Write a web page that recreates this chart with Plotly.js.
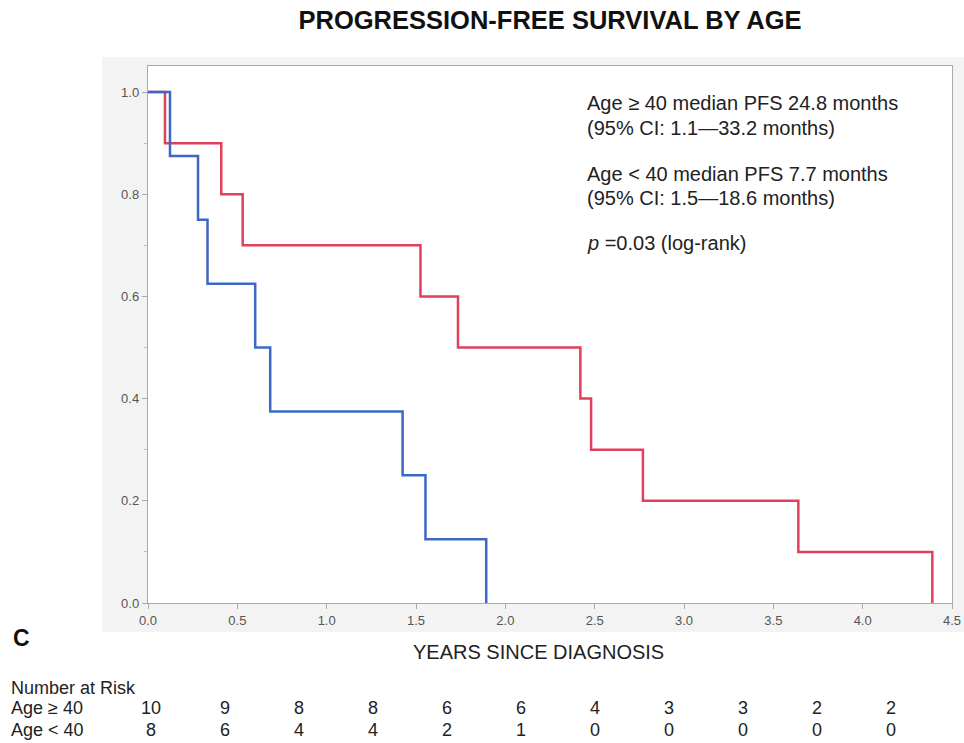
<!DOCTYPE html>
<html>
<head>
<meta charset="utf-8">
<script src="https://cdn.plot.ly/plotly-3.0.1.min.js"></script>
<style>html,body{margin:0;padding:0;background:#fff;}#chart{width:964px;height:743px;}</style>
</head>
<body>
<div id="chart"></div>
<script>
// Kaplan-Meier step data (years since diagnosis, survival probability)
const ageGE40Times = [0, 0.095, 0.41, 0.53, 1.525, 1.735, 2.42, 2.48, 2.77, 3.64, 4.39];
const ageGE40Surv  = [1.0, 0.9, 0.8, 0.7, 0.6, 0.5, 0.4, 0.3, 0.2, 0.1, 0.0];
const ageLT40Times = [0, 0.123, 0.28, 0.333, 0.60, 0.684, 1.425, 1.553, 1.893];
const ageLT40Surv  = [1.0, 0.875, 0.75, 0.625, 0.5, 0.375, 0.25, 0.125, 0.0];

// Number at risk table
const riskGE40 = [10, 9, 8, 8, 6, 6, 4, 3, 3, 2, 2];
const riskLT40 = [8, 6, 4, 4, 2, 1, 0, 0, 0, 0, 0];
const riskRowLabels = ["Age \u2265 40", "Age < 40"];

const textLines = [
  "Age \u2265 40 median PFS 24.8 months",
  "(95% CI: 1.1\u201433.2 months)",
  "Age < 40 median PFS 7.7 months",
  "(95% CI: 1.5\u201418.6 months)",
  "<i>p</i> =0.03 (log-rank)"
];

const W = 964, H = 743;
const mL = 148, mR = 12, mT = 66, mB = 140;
const pw = W - mL - mR, ph = H - mT - mB;
const px = v => (v - mL) / pw;           // pixel x -> paper x
const py = v => (H - mB - v) / ph;       // pixel y -> paper y
const FONT = 'Liberation Sans, Arial, sans-serif';

const traces = [
  {x: ageGE40Times, y: ageGE40Surv, mode: 'lines', line: {shape: 'hv', color: '#e0405a', width: 2.5}, name: 'Age \u2265 40', hoverinfo: 'skip'},
  {x: ageLT40Times, y: ageLT40Surv, mode: 'lines', line: {shape: 'hv', color: '#3d68c6', width: 2.5}, name: 'Age < 40', hoverinfo: 'skip'}
];

const annotations = [];
const textY = [103, 128, 174, 198, 243];
textLines.forEach((t, i) => annotations.push({
  xref: 'paper', yref: 'paper', x: px(585), y: py(textY[i]), xanchor: 'left', yanchor: 'middle',
  text: t, showarrow: false, font: {family: FONT, size: 20, color: '#222'}
}));
annotations.push({xref: 'paper', yref: 'paper', x: px(538), y: py(652), xanchor: 'center', yanchor: 'middle',
  text: 'YEARS SINCE DIAGNOSIS', showarrow: false, font: {family: FONT, size: 20, color: '#222'}});
annotations.push({xref: 'paper', yref: 'paper', x: px(11), y: py(638), xanchor: 'left', yanchor: 'middle',
  text: '<b>C</b>', showarrow: false, font: {family: FONT, size: 23, color: '#111'}});
annotations.push({xref: 'paper', yref: 'paper', x: px(9), y: py(688), xanchor: 'left', yanchor: 'middle',
  text: 'Number at Risk', showarrow: false, font: {family: FONT, size: 18, color: '#222'}});
const rowY = [708, 730];
[riskGE40, riskLT40].forEach((row, r) => {
  annotations.push({xref: 'paper', yref: 'paper', x: px(9), y: py(rowY[r]), xanchor: 'left', yanchor: 'middle',
    text: riskRowLabels[r], showarrow: false, font: {family: FONT, size: 18, color: '#222'}});
  row.forEach((v, i) => annotations.push({xref: 'paper', yref: 'paper', x: px(151 + i * 74), y: py(rowY[r]),
    xanchor: 'center', yanchor: 'middle', text: String(v), showarrow: false,
    font: {family: FONT, size: 18, color: '#222'}}));
});

const axisCommon = {
  showgrid: false, zeroline: false, showline: true, linecolor: '#aaaaaa', linewidth: 1.2, mirror: true,
  ticks: 'outside', ticklen: 5, tickcolor: '#aaaaaa', tickformat: '.1f',
  tickfont: {family: FONT, size: 13, color: '#555'}
};

const layout = {
  width: W, height: H,
  margin: {l: mL, r: mR, t: mT, b: mB},
  paper_bgcolor: '#ffffff', plot_bgcolor: 'rgba(0,0,0,0)',
  showlegend: false,
  title: {text: '<b>PROGRESSION-FREE SURVIVAL BY AGE</b>', x: 550 / W, xanchor: 'center', y: 1 - 20 / H, yanchor: 'middle',
    font: {family: FONT, size: 25.5, color: '#111'}},
  xaxis: Object.assign({}, axisCommon, {range: [0, 4.5], dtick: 0.5, tick0: 0}),
  yaxis: Object.assign({}, axisCommon, {range: [0, 1.051], dtick: 0.2, tick0: 0,
    minor: {dtick: 0.1, ticks: 'outside', ticklen: 3, tickcolor: '#bbbbbb', showgrid: false}}),
  shapes: [
    {type: 'rect', xref: 'paper', yref: 'paper', x0: px(102), x1: px(964), y0: py(632), y1: py(57), fillcolor: '#f3f3f3', line: {width: 0}, layer: 'below'},
    {type: 'rect', xref: 'paper', yref: 'paper', x0: 0, x1: 1, y0: 0, y1: 1, fillcolor: '#ffffff', line: {width: 0}, layer: 'below'}
  ],
  annotations: annotations
};

Plotly.newPlot('chart', traces, layout, {displayModeBar: false, staticPlot: true});
</script>
</body>
</html>
